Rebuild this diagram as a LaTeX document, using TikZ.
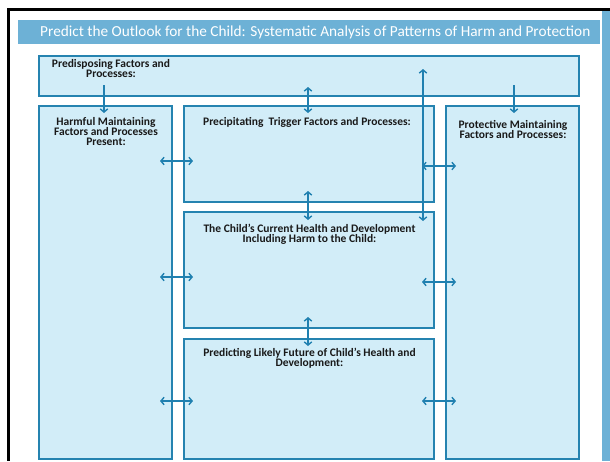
\documentclass[tikz,border=0pt]{standalone}
\usepackage{fontspec}
\setmainfont{Carlito}
\usetikzlibrary{arrows.meta}
\definecolor{boxfill}{HTML}{D2EDF8}
\definecolor{boxline}{HTML}{2583B0}
\definecolor{arrowc}{HTML}{2080B0}
\definecolor{titlebg}{HTML}{6DB1D6}
\tikzset{
  box/.style={draw=boxline, fill=boxfill, line width=1.5pt, inner sep=0pt, anchor=north west},
  lbl/.style={font=\fontsize{11.5}{10.2}\selectfont\bfseries, align=center, inner sep=0pt, text=black!90},
  conn/.style={draw=arrowc, line width=1.4pt},
  tip/.tip={Straight Barb[length=3.2pt,width=7.5pt,line width=1.4pt]},
  one/.style={conn, -tip},
  two/.style={conn, tip-tip},
}
\begin{document}
\begin{tikzpicture}[x=1pt,y=-1pt]
\useasboundingbox (0,0) rectangle (610,461);
\fill[white] (0,0) rectangle (610,461);
% frame
\fill[black] (7,8) rectangle (610,10.5);
\fill[black] (7,8) rectangle (9.5,461);
% right strip and title bar
\fill[titlebg] (602,11) rectangle (610,461);
\fill[titlebg] (18,20) rectangle (600,44);
\node[font=\fontsize{15.3}{15.3}\selectfont, text=white, anchor=west, inner sep=0pt] (title) at (40,32.5)
  {Predict the Outlook for the Child: Systematic Analysis of Patterns of Harm and Protection};
% boxes
\node[box, minimum width=540, minimum height=40] (pre) at (38,55) {};
\node[box, minimum width=133, minimum height=353] (harm) at (38,105) {};
\node[box, minimum width=250, minimum height=96] (prec) at (183,105) {};
\node[box, minimum width=250, minimum height=116] (cur) at (183,211) {};
\node[box, minimum width=250, minimum height=120] (fut) at (183,338) {};
\node[box, minimum width=133, minimum height=353] (prot) at (445,105) {};
% labels
\node[lbl] (tpre) at (111,68.5) {Predisposing Factors and\\Processes:};
\node[lbl] (tharm) at (106,131.5) {Harmful Maintaining\\Factors and Processes\\Present:};
\node[lbl] (tprec) at (307,122.5) {Precipitating\ \ Trigger Factors and Processes:};
\node[lbl] (tprot) at (513,129.5) {Protective Maintaining\\Factors and Processes:};
\node[lbl] (tcur) at (309.5,234) {The Child’s Current Health and Development\\Including Harm to the Child:};
\node[lbl] (tfut) at (309.5,358) {Predicting Likely Future of Child’s Health and\\Development:};
% connector end points
\coordinate (a1) at (104,85);  \coordinate (a2) at (104,113);
\coordinate (b1) at (514,85);  \coordinate (b2) at (514,113);
\coordinate (c1) at (308,87);  \coordinate (c2) at (308,113);
\coordinate (d1) at (423,69);  \coordinate (d2) at (423,221);
\coordinate (e1) at (308,191); \coordinate (e2) at (308,220);
\coordinate (f1) at (308,317); \coordinate (f2) at (308,346);
\coordinate (l1a) at (160,161); \coordinate (l1b) at (193,161);
\coordinate (l2a) at (160,277); \coordinate (l2b) at (193,277);
\coordinate (l3a) at (160,401); \coordinate (l3b) at (193,401);
\coordinate (r1a) at (422,166); \coordinate (r1b) at (456,166);
\coordinate (r2a) at (422,282); \coordinate (r2b) at (456,282);
\coordinate (r3a) at (422,401); \coordinate (r3b) at (456,401);
% connectors
\draw[one] (a1) -- (a2);
\draw[one] (b1) -- (b2);
\draw[two] (c1) -- (c2);
\draw[two] (d1) -- (d2);
\draw[two] (e1) -- (e2);
\draw[two] (f1) -- (f2);
\draw[two] (l1a) -- (l1b);
\draw[two] (l2a) -- (l2b);
\draw[two] (l3a) -- (l3b);
\draw[two] (r1a) -- (r1b);
\draw[two] (r2a) -- (r2b);
\draw[two] (r3a) -- (r3b);
\end{tikzpicture}
\end{document}
